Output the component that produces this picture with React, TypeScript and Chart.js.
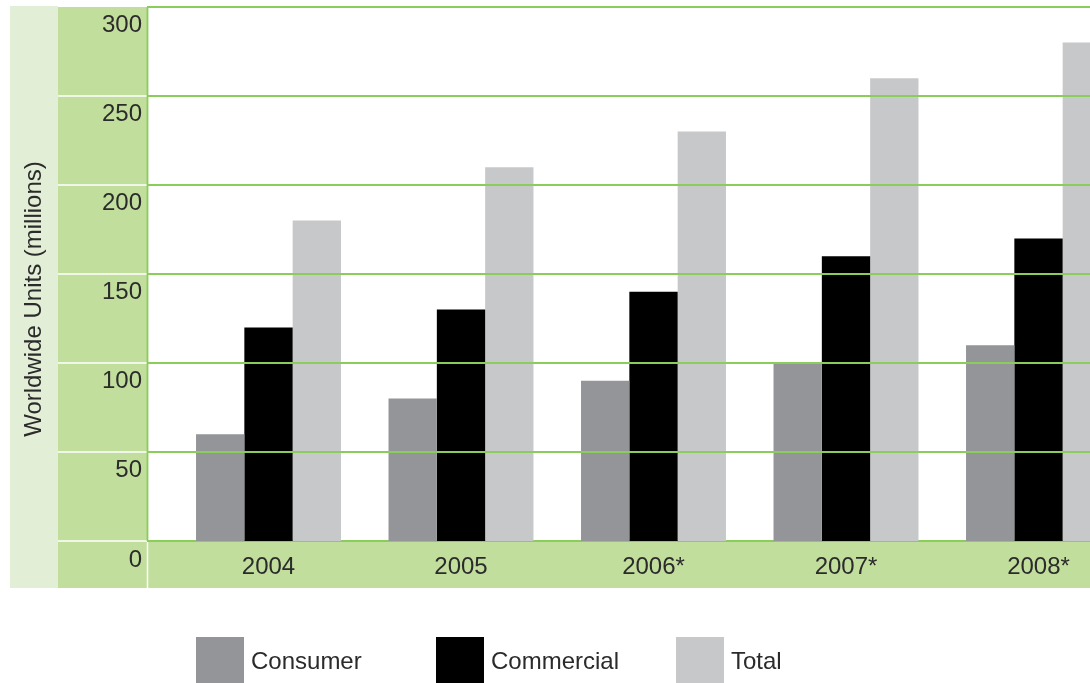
import React, { useEffect, useRef } from "react";
import { Chart, registerables } from "chart.js";

Chart.register(...registerables);

const categories = ["2004", "2005", "2006*", "2007*", "2008*"];
const consumer = [60, 80, 90, 100, 110];
const commercial = [120, 130, 140, 160, 170];
const total = [180, 210, 230, 260, 280];
const yTicks = [0, 50, 100, 150, 200, 250, 300];
const yTitle = "Worldwide Units (millions)";

const FONT = "'Liberation Sans', Arial, sans-serif";
const TEXT = "#2b2b2b";
const GRID = "#8bcd5a";
const MID = "#c1de9c";
const LIGHT = "#e2efd6";

const panelPlugin = {
  id: "panels",
  beforeDraw(chart: any) {
    const ctx = chart.ctx;
    const y = chart.scales.y;
    const W = 1090;
    const top = y.getPixelForValue(300);
    const bottom = y.getPixelForValue(0);
    ctx.save();
    ctx.fillStyle = "#ffffff";
    ctx.fillRect(0, 0, chart.width, chart.height);
    ctx.fillStyle = LIGHT;
    ctx.fillRect(10, top - 1, 48, 588 - top + 1);
    ctx.fillStyle = MID;
    ctx.fillRect(58, top, 89, 588 - top);
    ctx.fillRect(147, bottom + 1, W - 147, 588 - bottom - 1);
    // white separators in the tick band
    ctx.strokeStyle = "#ffffff";
    ctx.lineWidth = 1.5;
    for (const v of yTicks) {
      if (v === 300) continue;
      const py = y.getPixelForValue(v);
      ctx.beginPath();
      ctx.moveTo(58, py);
      ctx.lineTo(147, py);
      ctx.stroke();
    }
    ctx.beginPath();
    ctx.moveTo(147.5, bottom);
    ctx.lineTo(147.5, 588);
    ctx.stroke();
    // zero line
    ctx.strokeStyle = GRID;
    ctx.lineWidth = 1.8;
    ctx.beginPath();
    ctx.moveTo(147, bottom);
    ctx.lineTo(W, bottom);
    ctx.stroke();
    // left border
    ctx.beginPath();
    ctx.moveTo(147.5, top);
    ctx.lineTo(147.5, bottom);
    ctx.stroke();

    // y title
    ctx.fillStyle = TEXT;
    ctx.font = `24px ${FONT}`;
    ctx.translate(34, (top + bottom) / 2 + 25);
    ctx.rotate(-Math.PI / 2);
    ctx.textAlign = "center";
    ctx.textBaseline = "middle";
    ctx.fillText(yTitle, 0, 0);
    ctx.restore();
  },
  afterDatasetsDraw(chart: any) {
    const ctx = chart.ctx;
    const y = chart.scales.y;
    const x = chart.scales.x;
    const W = 1090;
    ctx.save();
    ctx.strokeStyle = GRID;
    ctx.lineWidth = 1.8;
    for (const v of yTicks) {
      if (v === 0) continue;
      const py = y.getPixelForValue(v);
      ctx.beginPath();
      ctx.moveTo(147, py);
      ctx.lineTo(W, py);
      ctx.stroke();
    }
    ctx.fillStyle = TEXT;
    ctx.font = `24px ${FONT}`;
    ctx.textAlign = "right";
    ctx.textBaseline = "alphabetic";
    for (const v of yTicks) {
      const py = y.getPixelForValue(v);
      ctx.fillText(String(v), 142, py + (v === 0 ? 26 : 25));
    }
    ctx.textAlign = "center";
    categories.forEach((c, i) => {
      ctx.fillText(c, x.getPixelForValue(i), 574);
    });
    // legend
    const ds = chart.data.datasets;
    ds.forEach((d: any, i: number) => {
      const lx = 196 + i * 240;
      ctx.fillStyle = d.backgroundColor;
      ctx.fillRect(lx, 637, 48, 46);
      ctx.fillStyle = TEXT;
      ctx.textAlign = "left";
      ctx.fillText(d.label, lx + 55, 669);
    });
    ctx.restore();
  },
};

export default function App() {
  const ref = useRef<HTMLCanvasElement | null>(null);
  useEffect(() => {
    if (!ref.current) return;
    const chart = new Chart(ref.current, {
      type: "bar",
      data: {
        labels: categories,
        datasets: [
          { label: "Consumer", data: consumer, backgroundColor: "#939598" },
          { label: "Commercial", data: commercial, backgroundColor: "#000000" },
          { label: "Total", data: total, backgroundColor: "#c7c8ca" },
        ],
      },
      options: {
        animation: false,
        responsive: true,
        maintainAspectRatio: false,
        layout: { padding: { left: 172.25, right: 15.25, top: 7, bottom: 142 } },
        datasets: {
          bar: { categoryPercentage: 0.753, barPercentage: 1, borderWidth: 0 },
        },
        plugins: {
          legend: { display: false },
          tooltip: { enabled: false },
        },
        scales: {
          x: { display: false, grid: { display: false } },
          y: { display: false, min: 0, max: 300, grid: { display: false } },
        },
      },
      plugins: [panelPlugin],
    });
    return () => chart.destroy();
  }, []);
  return (
    <div
      style={{
        position: "fixed",
        left: 0,
        top: 0,
        width: 1090,
        height: 683,
        overflow: "hidden",
        background: "#fff",
      }}
    >
      <div style={{ width: 1150, height: 683, position: "relative" }}>
        <canvas ref={ref} />
      </div>
    </div>
  );
}
